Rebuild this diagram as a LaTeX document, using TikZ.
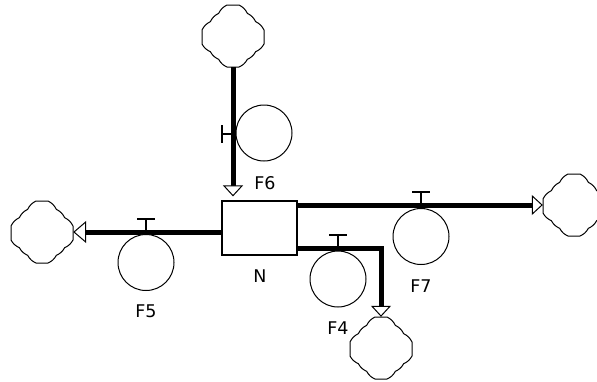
\documentclass[tikz,border=0pt]{standalone}
\usepackage{fontspec}
\setmainfont{DejaVu Sans}
\usetikzlibrary{arrows.meta}
\tikzset{
  pipe/.style={line width=5pt, draw=black},
  pipehead/.style={-{Triangle[open, fill=white, line width=1pt, length=11pt, width=20pt]}},
  bighead/.style={-{Triangle[open, fill=white, line width=1pt, length=13pt, width=22pt]}},
  stockbox/.style={draw=black, line width=1.2pt, minimum width=75pt, minimum height=54pt, inner sep=0pt},
  ratecirc/.style={circle, draw=black, fill=white, line width=1pt, minimum size=56pt, inner sep=0pt},
  valveline/.style={line width=1.5pt, draw=black},
  cloudbox/.style={minimum width=62pt, minimum height=62pt, inner sep=0pt},
  lbl/.style={font=\fontsize{17.5}{20}\selectfont, text=black, inner sep=0pt},
  bmp/.style={bend left=18},
  cloudpic/.pic={
    \draw[line width=1pt, fill=white, line join=round]
      (-6,-31) -- (6,-31)
      to[bmp] ++(8.33,8.33) to[bmp] ++(8.33,8.33) to[bmp] ++(8.34,8.34)
      -- (31,8)
      to[bmp] ++(-8.33,7.67) to[bmp] ++(-8.33,7.67) to[bmp] ++(-8.34,7.66)
      -- (-6,31)
      to[bmp] ++(-8.33,-7.67) to[bmp] ++(-8.33,-7.67) to[bmp] ++(-8.34,-7.66)
      -- (-31,-6)
      to[bmp] ++(8.33,-8.33) to[bmp] ++(8.33,-8.33) to[bmp] ++(8.34,-8.34)
      -- cycle;
  }
}
\begin{document}
\begin{tikzpicture}[x=1pt, y=-1pt]
\clip (0,0) rectangle (597,381);
\fill[white] (0,0) rectangle (597,381);

% stock
\node[stockbox] (N) at (259.5,228) {};
\node[lbl] (Nlab) at (260,276) {N};

% clouds
\node[cloudbox] (c6) at (233,36) {};
\pic at (c6) {cloudpic};
\node[cloudbox] (c5) at (42,232) {};
\pic at (c5) {cloudpic};
\node[cloudbox] (c7) at (574,205) {};
\pic at (c7) {cloudpic};
\node[cloudbox] (c4) at (381,348) {};
\pic at (c4) {cloudpic};

% F6 pipe (cloud -> stock)
\path (c6.south |- N.north) ++(0,-4) coordinate (f6end);
\draw[pipe, pipehead] (c6.south) -- (f6end);
% F5 pipe (stock -> cloud)
\draw[pipe, bighead] (N.west |- c5.east) -- (c5.east);
% F7 pipe
\draw[pipe, pipehead] (N.east |- c7.west) -- (c7.west);
% F4 pipe
\coordinate (f4start) at ([yshift=7pt]N.south east);
\draw[pipe, pipehead] (f4start) -| (c4.north);

% valves
\coordinate (v5) at (146,232);
\coordinate (v7) at (421,205);
\coordinate (v4) at (338,248);
\coordinate (v6) at (233,134);
\foreach \v in {v5,v7,v4}{
  \draw[valveline] (\v) -- ++(0,-13) coordinate (\v top);
  \draw[valveline] ([xshift=-9pt]\v top) -- ([xshift=9pt]\v top);
  \fill[black] ([xshift=-4pt]\v) rectangle ([xshift=4pt,yshift=-4.5pt]\v);
}
\draw[valveline] (v6) -- ++(-11,0) coordinate (v6top);
\draw[valveline] ([yshift=9pt]v6top) -- ([yshift=-9pt]v6top);
\fill[black] ([yshift=-4pt]v6) rectangle ([yshift=4pt,xshift=4.5pt]v6);

% rate circles
\node[ratecirc] (r5) at (146,262.5) {};
\node[ratecirc] (r7) at (421,236.5) {};
\node[ratecirc] (r4) at (338,279) {};
\node[ratecirc] (r6) at (264,133) {};

% labels
\node[lbl] (l6) at (265,183) {F6};
\node[lbl] (l5) at (146,311) {F5};
\node[lbl] (l7) at (421,286) {F7};
\node[lbl] (l4) at (338,328) {F4};
\end{tikzpicture}
\end{document}
